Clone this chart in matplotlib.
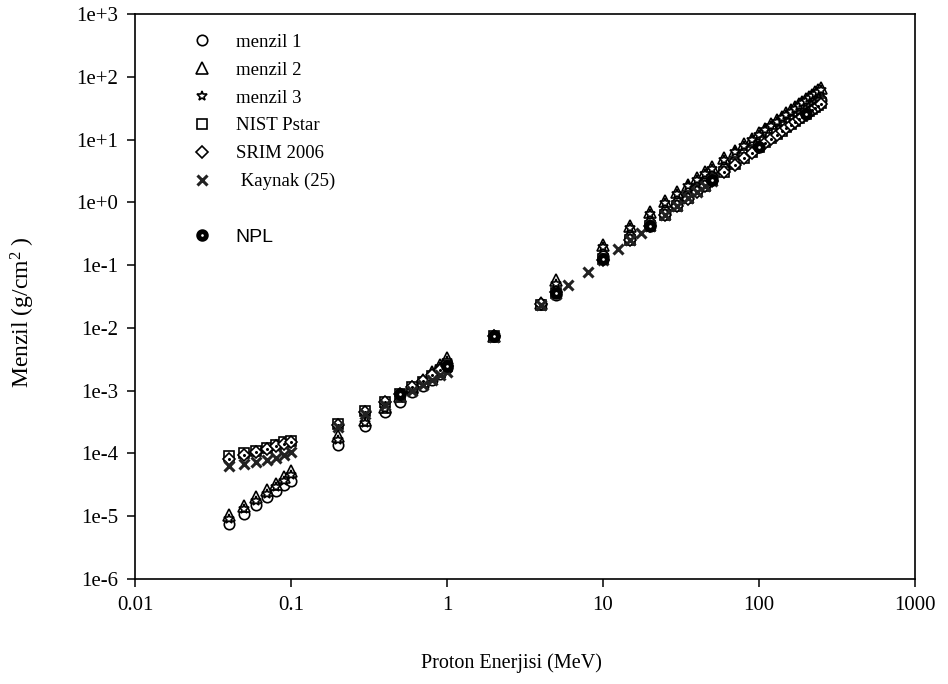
import matplotlib
matplotlib.use("Agg")
import matplotlib.pyplot as plt
from matplotlib.lines import Line2D

plt.rcParams["font.family"] = "Liberation Serif"
plt.rcParams["mathtext.fontset"] = "custom"
plt.rcParams["mathtext.rm"] = "Liberation Serif"
plt.rcParams["mathtext.it"] = "Liberation Serif:italic"

# energies (MeV)
energy = [0.04, 0.05, 0.06, 0.07, 0.08, 0.09, 0.1,
          0.2, 0.3, 0.4, 0.5, 0.6, 0.7, 0.8, 0.9, 1, 2, 4, 5,
          10, 15, 20, 25, 30, 35, 40, 45, 50, 60, 70, 80, 90, 100,
          110, 120, 130, 140, 150, 160, 170, 180, 190, 200, 210, 220, 230, 240, 250]

# ranges (g/cm2)
menzil1 = [7.5e-6, 1.1e-5, 1.5e-5, 2.0e-5, 2.5e-5, 3.1e-5, 3.7e-5,
           1.35e-4, 2.7e-4, 4.6e-4, 6.5e-4, 9.6e-4, 1.2e-3, 1.5e-3, 1.85e-3, 2.3e-3, 7.3e-3, 0.024, 0.034,
           0.138, 0.285, 0.477, 0.713, 0.99, 1.31, 1.67, 2.06, 2.50, 3.46, 4.57, 5.80, 7.17, 8.65,
           10.2, 11.9, 13.7, 15.6, 17.7, 19.7, 22.0, 24.3, 26.7, 29.1, 31.6, 34.2, 36.8, 39.6, 42.6]
menzil2 = [1.05e-5, 1.45e-5, 2.0e-5, 2.6e-5, 3.3e-5, 4.2e-5, 5.2e-5,
           1.9e-4, 3.4e-4, 5.5e-4, 8.2e-4, 1.15e-3, 1.5e-3, 1.95e-3, 2.6e-3, 3.3e-3, 7.4e-3, 0.025, 0.058,
           0.21, 0.415, 0.70, 1.04, 1.44, 1.91, 2.42, 3.0, 3.62, 5.03, 6.64, 8.44, 10.4, 12.6,
           15.0, 17.5, 20.2, 23.1, 26.2, 29.4, 32.8, 36.3, 40.0, 43.9, 47.9, 52.1, 56.5, 61.0, 65.6]
menzil3 = [9.0e-6, 1.3e-5, 1.75e-5, 2.3e-5, 2.9e-5, 3.7e-5, 4.5e-5,
           1.65e-4, 3.1e-4, 5.1e-4, 7.6e-4, 1.07e-3, 1.4e-3, 1.8e-3, 2.35e-3, 3.0e-3, 7.3e-3, 0.024, 0.05,
           0.195, 0.39, 0.66, 0.98, 1.36, 1.80, 2.29, 2.84, 3.42, 4.76, 6.29, 8.0, 9.9, 11.9,
           14.2, 16.6, 19.1, 21.9, 24.8, 27.8, 31.0, 34.4, 37.9, 41.6, 45.4, 49.4, 53.5, 57.8, 62.2]
nist = [9.0e-5, 1.0e-4, 1.1e-4, 1.2e-4, 1.35e-4, 1.5e-4, 1.6e-4,
        2.95e-4, 4.7e-4, 6.7e-4, 8.9e-4, 1.13e-3, 1.40e-3, 1.69e-3, 2.0e-3, 2.46e-3, 7.3e-3, 0.0235, 0.036,
        0.123, 0.254, 0.426, 0.637, 0.885, 1.17, 1.49, 1.84, 2.23, 3.09, 4.08, 5.18, 6.40, 7.72,
        9.13, 10.6, 12.2, 13.9, 15.8, 17.6, 19.6, 21.7, 23.8, 26.0, 28.2, 30.5, 32.9, 35.4, 38.0]
srim = [8.3e-5, 9.5e-5, 1.07e-4, 1.18e-4, 1.3e-4, 1.42e-4, 1.53e-4,
        2.8e-4, 4.6e-4, 6.7e-4, 9.0e-4, 1.15e-3, 1.45e-3, 1.75e-3, 2.1e-3, 2.5e-3, 7.4e-3, 0.024, 0.037,
        0.12, 0.247, 0.414, 0.619, 0.86, 1.14, 1.45, 1.79, 2.17, 3.0, 3.97, 5.04, 6.22, 7.5,
        8.87, 10.3, 11.9, 13.5, 15.3, 17.1, 19.0, 21.1, 23.1, 25.2, 27.4, 29.6, 32.0, 34.4, 36.9]

kaynak_energy = [0.04, 0.05, 0.06, 0.07, 0.08, 0.09, 0.1,
                 0.2, 0.3, 0.4, 0.5, 0.6, 0.7, 0.8, 0.9, 1, 2, 4, 5, 6, 8,
                 10, 12.5, 15, 17.5, 20, 25, 30, 35, 40, 45, 50]
kaynak = [6.2e-5, 6.7e-5, 7.4e-5, 8.0e-5, 8.5e-5, 9.6e-5, 1.07e-4,
          2.6e-4, 4.2e-4, 6.0e-4, 8.0e-4, 1.0e-3, 1.25e-3, 1.5e-3, 1.75e-3, 2.0e-3, 7.2e-3, 0.023, 0.035, 0.048, 0.079,
          0.12, 0.18, 0.25, 0.33, 0.42, 0.63, 0.88, 1.16, 1.48, 1.83, 2.21]

npl_energy = [0.5, 1, 2, 5, 10, 20, 50, 100, 200]
npl = [8.9e-4, 2.46e-3, 7.3e-3, 0.0362, 0.123, 0.426, 2.23, 7.72, 25.96]

xticks = [0.01, 0.1, 1, 10, 100, 1000]
xtick_labels = ["0.01", "0.1", "1", "10", "100", "1000"]
yticks = [1e-6, 1e-5, 1e-4, 1e-3, 1e-2, 1e-1, 1e0, 1e1, 1e2, 1e3]
ytick_labels = ["1e-6", "1e-5", "1e-4", "1e-3", "1e-2", "1e-1", "1e+0", "1e+1", "1e+2", "1e+3"]

fig = plt.figure(figsize=(9.48, 6.84), dpi=100)
ax = fig.add_axes([0.1424, 0.1535, 0.8228, 0.826])

open_kw = dict(linestyle="none", markerfacecolor="white", markeredgecolor="black", markeredgewidth=1.2)
h1, = ax.plot(energy, menzil1, marker="o", markersize=7.5, label="menzil 1", **open_kw)
h2, = ax.plot(energy, menzil2, marker="^", markersize=8, label="menzil 2", **open_kw)
h3, = ax.plot(energy, menzil3, marker="*", markersize=7.5, label="menzil 3", **open_kw)
h4, = ax.plot(energy, nist, marker="s", markersize=7, label="NIST Pstar", **open_kw)
h5, = ax.plot(energy, srim, marker="D", markersize=6.5, label="SRIM 2006", **open_kw)
ax.plot(energy, srim, linestyle="none", marker="o", markersize=1.2, color="black")
h6, = ax.plot(kaynak_energy, kaynak, linestyle="none", marker="x", markersize=7.5,
              markeredgewidth=2.2, color="#222222", label=" Kaynak (25)")
h7, = ax.plot(npl_energy, npl, linestyle="none", marker="o", markersize=5.5,
              markerfacecolor="white", markeredgecolor="black", markeredgewidth=3.5, label="NPL")

ax.set_xscale("log")
ax.set_yscale("log")
ax.set_xlim(0.01, 1000)
ax.set_ylim(1e-6, 1e3)
ax.set_xticks(xticks)
ax.set_xticklabels(xtick_labels)
ax.set_yticks(yticks)
ax.set_yticklabels(ytick_labels)
ax.minorticks_off()
ax.tick_params(axis="both", direction="out", length=6, width=1.1, labelsize=15,
               top=False, right=False, pad=6)
for s in ax.spines.values():
    s.set_linewidth(1.2)

ax.set_xlabel("Proton Enerjisi (MeV)", fontsize=14.5)
ax.set_ylabel("Menzil (g/cm$^{\\mathrm{2}}$ )", fontsize=17)
ax.xaxis.set_label_coords(0.482, -0.131)
ax.yaxis.set_label_coords(-0.125, 0.473)

blank = Line2D([], [], linestyle="none", marker="none")
leg = ax.legend([h1, h2, h3, h4, h5, h6, blank, h7],
                ["menzil 1", "menzil 2", "menzil 3", "NIST Pstar", "SRIM 2006", " Kaynak (25)", " ", "NPL"],
                loc="upper left", bbox_to_anchor=(0.074, 0.965), frameon=False,
                fontsize=13.5, handlelength=1.0, handletextpad=1.3, labelspacing=0.57,
                borderpad=0, borderaxespad=0, numpoints=1)
leg.get_texts()[-1].set_family("Liberation Sans")
leg.get_texts()[-1].set_fontsize(14)

fig.savefig("out.png", dpi=100)
